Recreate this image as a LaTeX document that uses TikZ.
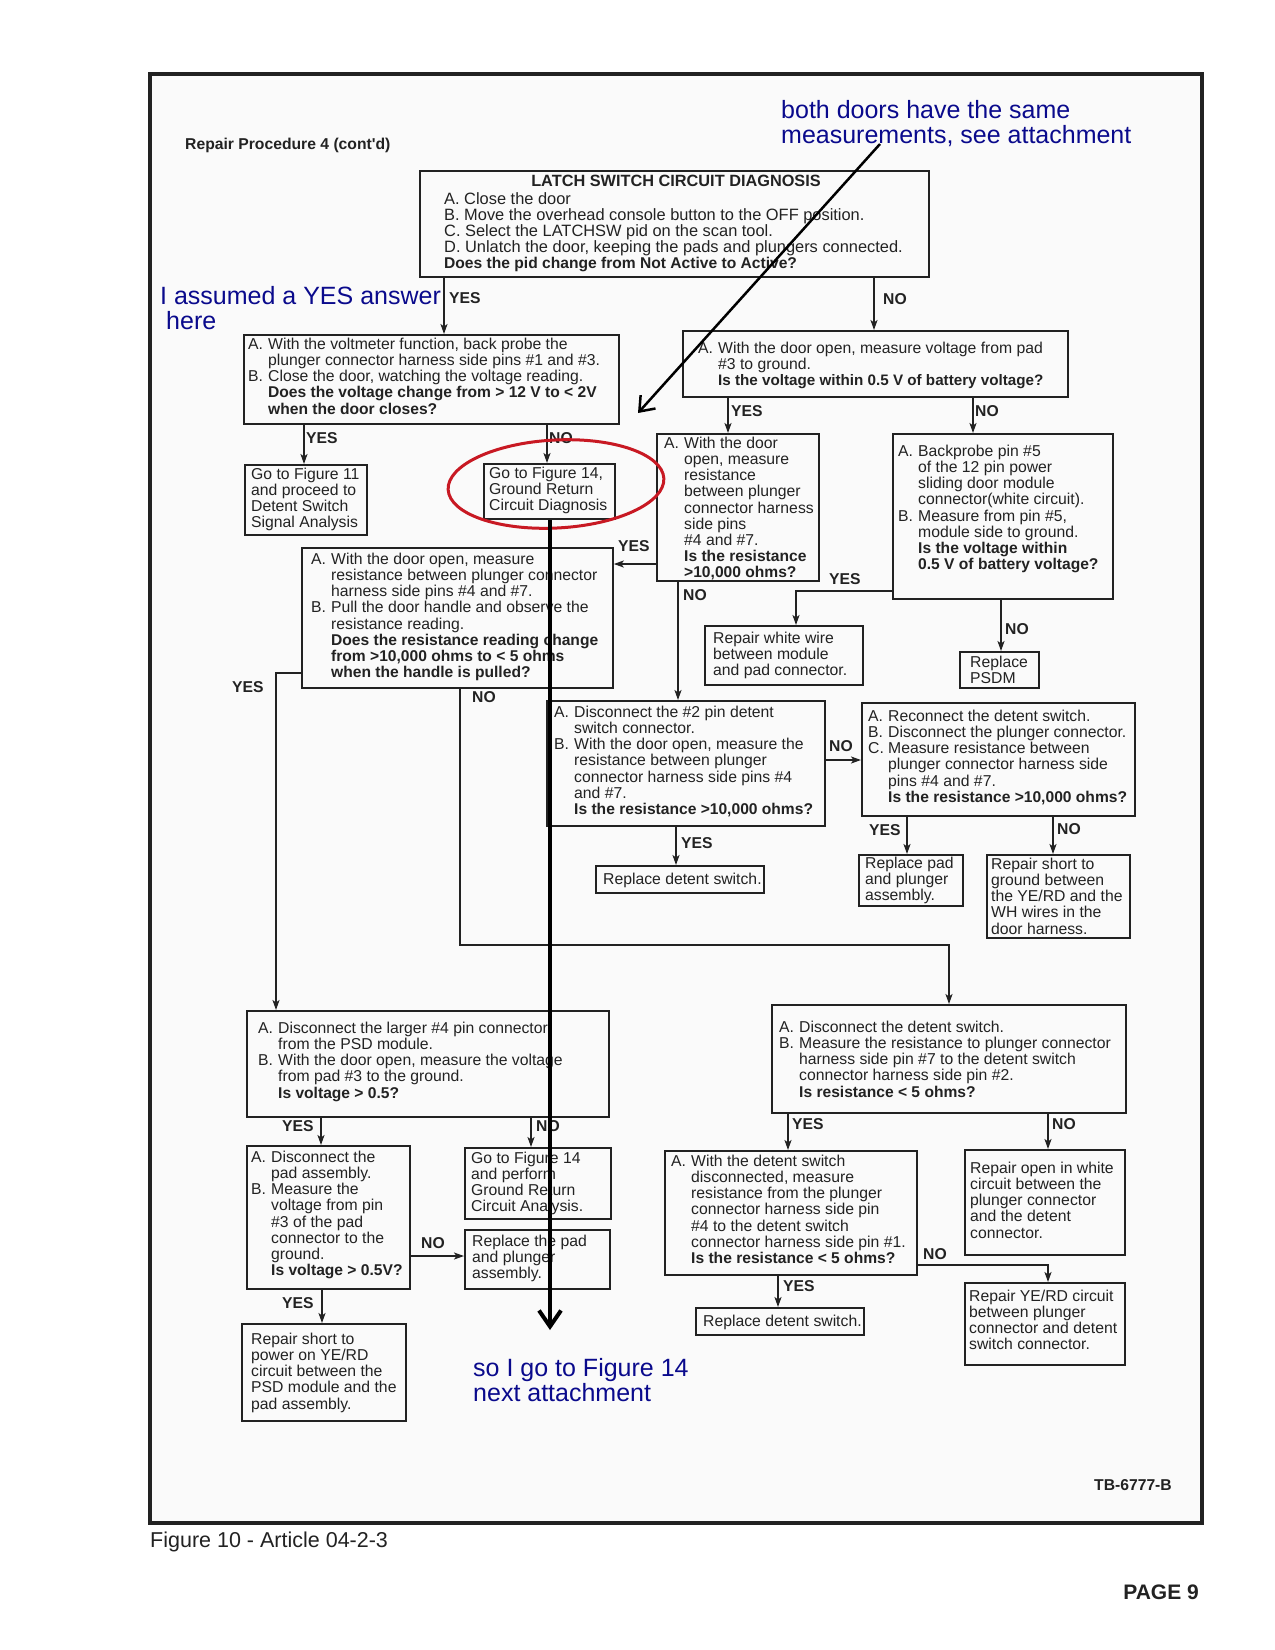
\documentclass[tikz,border=0pt]{standalone}
\usepackage{fontspec}
\setmainfont{Liberation Sans}
\usetikzlibrary{arrows.meta,calc}
\definecolor{ink}{HTML}{222222}
\definecolor{annc}{RGB}{10,10,140}
\definecolor{redm}{RGB}{200,25,35}
\newcommand\dfont{\fontsize{15.75}{16.1}\selectfont}
\newcommand\tfont{\fontsize{16.4}{16.1}\selectfont}
\newcommand\bfnt{\fontsize{15.7}{16.1}\selectfont\bfseries}
\newcommand\bb[1]{{\fontsize{15.6}{16.1}\selectfont\bfseries #1}}
\newcommand\afont{\fontsize{25}{25}\selectfont}
\newcommand\hi{\hspace*{20pt}}
\newcommand\lab[1]{\makebox[20pt][l]{#1}}
\newcommand\bx[5]{\pgfmathsetmacro\bw{#4-#2}\pgfmathsetmacro\bh{#5-#3}%
  \node[bxs, minimum width=\bw pt, minimum height=\bh pt] (#1) at (#2,#3) {};}
\newcommand\tx[4]{\node[txs] (#1) at (#2,{#3-6}) {#4};}
\tikzset{
 bxs/.style={draw=ink, line width=1.8pt, anchor=north west, inner sep=0pt},
 txs/.style={align=left, inner sep=0pt, anchor=north west, font=\dfont, text=ink, execute at begin node={\rule{0pt}{12pt}}},
 lbl/.style={font=\bfnt, text=ink, inner sep=0pt, anchor=west},
 arr/.style={draw=ink, line width=1.8pt, -{Stealth[length=10pt,width=7pt,inset=2.5pt]}},
 annt/.style={font=\afont, text=annc, align=left, inner sep=0pt, anchor=north west, execute at begin node={\rule{0pt}{19pt}}},
}
\begin{document}
\begin{tikzpicture}[x=1pt,y=-1pt]
\useasboundingbox (0,0) rectangle (1275,1650);
\fill[white] (0,0) rectangle (1275,1650);
\fill[black!2] (150,74) rectangle (1202,1523);
\draw[ink, line width=3.5pt] (150,74) rectangle (1202,1523);

\node[lbl] (rp) at (185,145) {Repair Procedure 4 (cont\textquotesingle d)};

% top box
\bx{top}{419}{170}{928}{276}
\node[lbl, anchor=center, font=\fontsize{16.3}{16.1}\selectfont\bfseries] (toptitle) at (676,181) {LATCH SWITCH CIRCUIT DIAGNOSIS};
\tx{topt}{444}{198}{\tfont A. Close the door\\\tfont B. Move the overhead console button to the OFF position.\\\tfont C. Select the LATCHSW pid on the scan tool.\\\tfont D. Unlatch the door, keeping the pads and plungers connected.\\\bb{Does the pid change from Not Active to Active?}}

\bx{b2}{243}{334}{618}{423}
\tx{b2t}{248}{344}{\lab{A.}With the voltmeter function, back probe the\\\hi plunger connector harness side pins \#1 and \#3.\\\lab{B.}Close the door, watching the voltage reading.\\\hi\bb{Does the voltage change from > 12 V to < 2V}\\\hi\bb{when the door closes?}}

\bx{b3}{682}{330}{1067}{396}
\tx{b3t}{698}{348}{\lab{A.}With the door open, measure voltage from pad\\\hi \#3 to ground.\\\hi{\fontsize{15.2}{16.1}\selectfont\bfseries Is the voltage within 0.5 V of battery voltage?}}

\bx{g11}{244}{464}{366}{534}
\tx{g11t}{251}{474}{Go to Figure 11\\and proceed to\\Detent Switch\\Signal Analysis}

\bx{g14}{483}{463}{614}{518}
\tx{g14t}{489}{473}{Go to Figure 14,\\Ground Return\\Circuit Diagnosis}

\bx{b4}{656}{433}{818}{580}
\tx{b4t}{664}{443}{\lab{A.}With the door\\\hi open, measure\\\hi resistance\\\hi between plunger\\\hi connector harness\\\hi side pins\\\hi \#4 and \#7.\\\hi\bb{Is the resistance}\\\hi\bb{>10,000 ohms?}}

\bx{b5}{892}{433}{1112}{598}
\tx{b5t}{898}{451}{\lab{A.}Backprobe pin \#5\\\hi of the 12 pin power\\\hi sliding door module\\\hi connector(white circuit).\\\lab{B.}Measure from pin \#5,\\\hi module side to ground.\\\hi\bb{Is the voltage within}\\\hi\bb{0.5 V of battery voltage?}}

\bx{b6}{301}{547}{612}{687}
\tx{b6t}{311}{559}{\lab{A.}With the door open, measure\\\hi resistance between plunger connector\\\hi harness side pins \#4 and \#7.\\\lab{B.}Pull the door handle and observe the\\\hi resistance reading.\\\hi\bb{Does the resistance reading change}\\\hi\bb{from >10,000 ohms to < 5 ohms}\\\hi\bb{when the handle is pulled?}}

\bx{rw}{704}{625}{862}{684}
\tx{rwt}{713}{638}{Repair white wire\\between module\\and pad connector.}

\bx{psdm}{959}{651}{1038}{687}
\tx{psdmt}{970}{662}{Replace\\PSDM}

\bx{b7}{546}{700}{824}{825}
\tx{b7t}{554}{712}{\lab{A.}Disconnect the \#2 pin detent\\\hi switch connector.\\\lab{B.}With the door open, measure the\\\hi resistance between plunger\\\hi connector harness side pins \#4\\\hi and \#7.\\\hi\bb{Is the resistance >10,000 ohms?}}

\bx{b9}{861}{702}{1134}{815}
\tx{b9t}{868}{716}{\lab{A.}Reconnect the detent switch.\\\lab{B.}Disconnect the plunger connector.\\\lab{C.}Measure resistance between\\\hi plunger connector harness side\\\hi pins \#4 and \#7.\\\hi\bb{Is the resistance >10,000 ohms?}}

\bx{rds1}{595}{865}{763}{892}
\tx{rds1t}{603}{878}{Replace detent switch.}

\bx{rpp}{858}{854}{962}{905}
\tx{rppt}{865}{863}{Replace pad\\and plunger\\assembly.}

\bx{rsg}{986}{854}{1129}{937}
\tx{rsgt}{991}{864}{Repair short to\\ground between\\the YE/RD and the\\WH wires in the\\door harness.}

\bx{b8}{246}{1010}{608}{1116}
\tx{b8t}{258}{1028}{\lab{A.}Disconnect the larger \#4 pin connector\\\hi from the PSD module.\\\lab{B.}With the door open, measure the voltage\\\hi from pad \#3 to the ground.\\\hi\bb{Is voltage > 0.5?}}

\bx{b10}{771}{1004}{1125}{1112}
\tx{b10t}{779}{1027}{\lab{A.}Disconnect the detent switch.\\\lab{B.}Measure the resistance to plunger connector\\\hi harness side pin \#7 to the detent switch\\\hi connector harness side pin \#2.\\\hi\bb{Is resistance < 5 ohms?}}

\bx{b11}{246}{1145}{409}{1288}
\tx{b11t}{251}{1157}{\lab{A.}Disconnect the\\\hi pad assembly.\\\lab{B.}Measure the\\\hi voltage from pin\\\hi \#3 of the pad\\\hi connector to the\\\hi ground.\\\hi\bb{Is voltage > 0.5V?}}

\bx{g14b}{464}{1147}{610}{1218}
\tx{g14bt}{471}{1158}{Go to Figure 14\\and perform\\Ground Return\\Circuit Analysis.}

\bx{rpa}{464}{1229}{609}{1288}
\tx{rpat}{472}{1241}{Replace the pad\\and plunger\\assembly.}

\bx{rsp}{241}{1323}{405}{1420}
\tx{rspt}{251}{1339}{Repair short to\\power on YE/RD\\circuit between the\\PSD module and the\\pad assembly.}

\bx{b12}{664}{1150}{916}{1274}
\tx{b12t}{671}{1161}{\lab{A.}With the detent switch\\\hi disconnected, measure\\\hi resistance from the plunger\\\hi connector harness side pin\\\hi \#4 to the detent switch\\\hi connector harness side pin \#1.\\\hi\bb{Is the resistance < 5 ohms?}}

\bx{row}{964}{1149}{1124}{1254}
\tx{rowt}{970}{1168}{Repair open in white\\circuit between the\\plunger connector\\and the detent\\connector.}

\bx{rye}{964}{1282}{1124}{1364}
\tx{ryet}{969}{1296}{Repair YE/RD circuit\\between plunger\\connector and detent\\switch connector.}

\bx{rds2}{695}{1307}{863}{1334}
\tx{rds2t}{703}{1320}{Replace detent switch.}

% connectors
\coordinate (k1) at (949,945);
\draw[arr] (top.south -| 444,0) -- (b2.north -| 444,0);
\draw[arr] (top.south -| 874,0) -- (b3.north -| 874,0);
\draw[arr] (b2.south -| 304,0) -- (g11.north -| 304,0);
\draw[arr] (b2.south -| 547,0) -- (g14.north -| 547,0);
\draw[arr] (b3.south -| 728,0) -- (b4.north -| 728,0);
\draw[arr] (b3.south -| 973,0) -- (b5.north -| 973,0);
\draw[arr] (b4.west |- 0,564) -- (b6.east |- 0,564);
\draw[arr] (b4.south -| 678,0) -- (b7.north -| 678,0);
\draw[arr] (b5.west |- 0,591) -| (rw.north -| 796,0);
\draw[arr] (b5.south -| 1001,0) -- (psdm.north -| 1001,0);
\draw[arr] (b6.west |- 0,673) -| (b8.north -| 276,0);
\draw[arr] (b6.south -| 460,0) |- (k1) -- (b10.north -| k1);
\draw[arr] (b7.east |- 0,760) -- (b9.west |- 0,760);
\draw[arr] (b7.south -| 676,0) -- (rds1.north -| 676,0);
\draw[arr] (b9.south -| 907,0) -- (rpp.north -| 907,0);
\draw[arr] (b9.south -| 1053,0) -- (rsg.north -| 1053,0);
\draw[arr] (b8.south -| 321,0) -- (b11.north -| 321,0);
\draw[arr] (b8.south -| 531,0) -- (g14b.north -| 531,0);
\draw[arr] (b11.east |- 0,1256) -- (rpa.west |- 0,1256);
\draw[arr] (b11.south -| 322,0) -- (rsp.north -| 322,0);
\draw[arr] (b10.south -| 788,0) -- (b12.north -| 788,0);
\draw[arr] (b10.south -| 1048,0) -- (row.north -| 1048,0);
\draw[arr] (b12.east |- 0,1265) -| (rye.north -| 1048,0);
\draw[arr] (b12.south -| 778,0) -- (rds2.north -| 778,0);

% labels
\node[lbl] (l1) at (449,298) {YES};
\node[lbl] (l2) at (883,299) {NO};
\node[lbl] (l3) at (306,438) {YES};
\node[lbl] (l4) at (549,438) {NO};
\node[lbl] (l5) at (731,411) {YES};
\node[lbl] (l6) at (975,411) {NO};
\node[lbl] (l7) at (618,546) {YES};
\node[lbl] (l8) at (683,595) {NO};
\node[lbl] (l9) at (829,579) {YES};
\node[lbl] (l10) at (1005,629) {NO};
\node[lbl] (l11) at (232,687) {YES};
\node[lbl] (l12) at (472,697) {NO};
\node[lbl] (l13) at (829,746) {NO};
\node[lbl] (l14) at (681,843) {YES};
\node[lbl] (l15) at (869,830) {YES};
\node[lbl] (l16) at (1057,829) {NO};
\node[lbl] (l17) at (282,1126) {YES};
\node[lbl] (l18) at (536,1126) {NO};
\node[lbl] (l19) at (421,1243) {NO};
\node[lbl] (l20) at (282,1303) {YES};
\node[lbl] (l21) at (792,1124) {YES};
\node[lbl] (l22) at (1052,1124) {NO};
\node[lbl] (l23) at (923,1254) {NO};
\node[lbl] (l24) at (783,1286) {YES};

\node[lbl, anchor=east] (tb) at (1172,1485) {TB-6777-B};
\node[font=\fontsize{21.5}{22}\selectfont, text=ink, inner sep=0pt, anchor=west] (fig) at (150,1542) {Figure 10 - Article 04-2-3};
\node[font=\fontsize{21}{22}\selectfont\bfseries, text=ink, inner sep=0pt, anchor=east] (pg) at (1199,1592) {PAGE 9};

% annotations
\draw[redm, line width=3pt, rotate around={3:(556,484)}] (556,484) ellipse [x radius=108, y radius=44];
\node[annt] (a1) at (781,100) {both doors have the same\\measurements, see attachment};
\node[annt] (a2) at (160,286) {I assumed a YES answer\\\hspace*{6pt}here};
\node[annt] (a3) at (473,1358) {so I go to Figure 14\\next attachment};
\coordinate (d1) at (880,144);
\coordinate (d2) at (638,413);
\coordinate (d3) at (550,1330);
\draw[black, line width=2.5pt, -{Straight Barb[length=13pt,width=20pt]}] (d1) -- (d2);
\draw[black, line width=4pt, -{Straight Barb[length=16pt,width=22pt]}] (g14.south -| d3) -- (d3);
\end{tikzpicture}
\end{document}
